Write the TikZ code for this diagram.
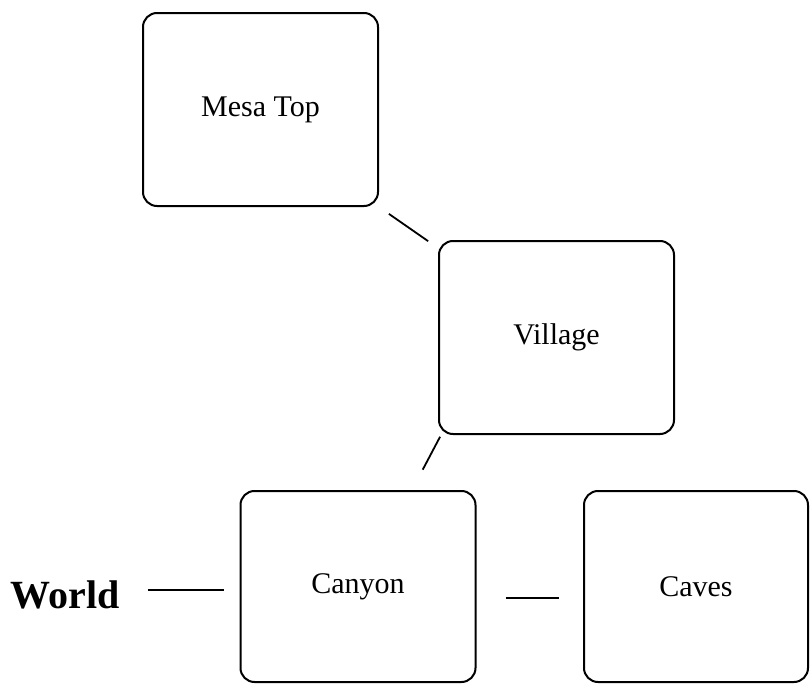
\documentclass[tikz,border=0pt]{standalone}
\usepackage{fontspec}
\setmainfont{Liberation Serif}
\usetikzlibrary{positioning}

\begin{document}
\begin{tikzpicture}[
  x=0.5pt, y=-0.5pt,
  room/.style={draw, line width=1pt, rounded corners=7pt,
               minimum width=117.5pt, minimum height=96.5pt,
               font=\fontsize{15}{18}\selectfont},
  conn/.style={draw, line width=0.9pt},
  big/.style={font=\fontsize{20}{24}\selectfont\bfseries, inner sep=0pt}
]
  \useasboundingbox (0,0) rectangle (810,685);

  \node[room] (Mesa)    at (260.5,109.5) {Mesa Top};
  \node[room] (Village) at (556.5,337.5) {Village};
  \node[room, minimum height=95.5pt] (Canyon) at (358,586.5) {Canyon};
  \node[room, minimum width=112pt, minimum height=95.5pt] (Caves) at (696,586.5) {Caves};
  \node[big]  (World)   at (65,595)      {World};

  \draw[conn, shorten <=6pt, shorten >=6pt] (Mesa.south east) -- ([yshift=-4pt]Village.north west);
  \draw[conn, shorten <=1pt, shorten >=11.5pt] ([xshift=1.5pt]Village.south west) -- ([xshift=-13pt]Village.south west |- Canyon.north);
  \draw[conn, shorten <=14pt, shorten >=8pt] ([yshift=-1.75pt]Canyon.west -| World.east) -- ([yshift=-1.75pt]Canyon.west);
  \draw[conn, shorten <=14.5pt, shorten >=12pt] ([yshift=-5.75pt]Canyon.east) -- ([yshift=-5.75pt]Caves.west);
\end{tikzpicture}
\end{document}
